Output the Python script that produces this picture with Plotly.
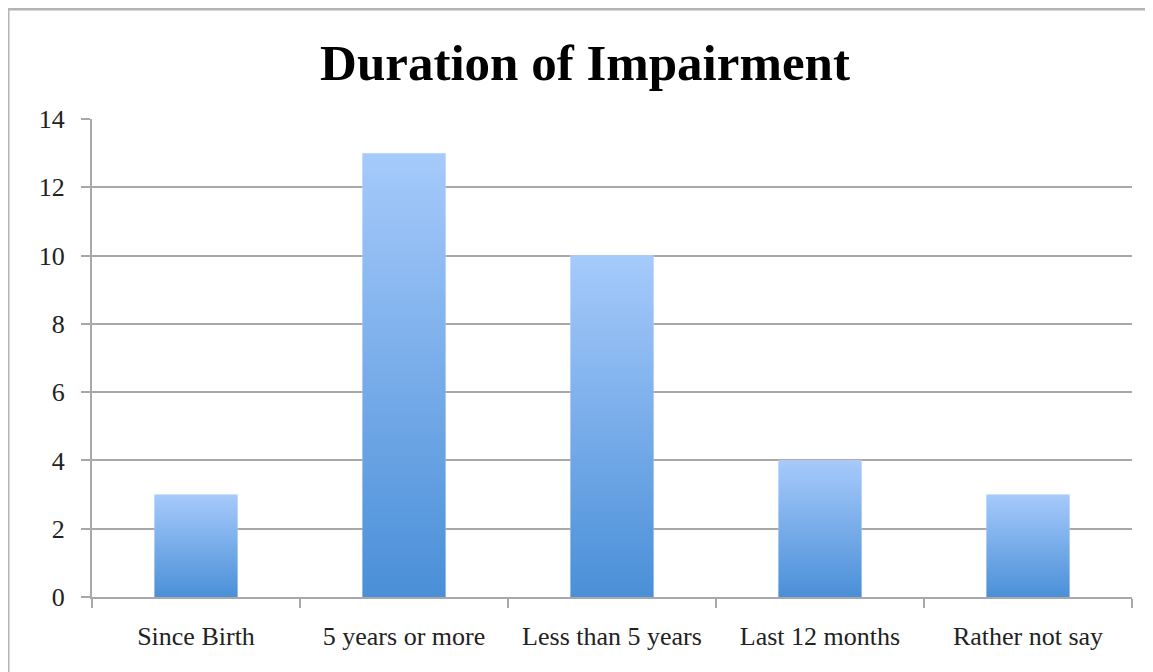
import plotly.graph_objects as go

categories = ["Since Birth", "5 years or more", "Less than 5 years", "Last 12 months", "Rather not say"]
counts = [3, 13, 10, 4, 3]
y_ticks = [0, 2, 4, 6, 8, 10, 12, 14]
title_text = "Duration of Impairment"

BAR_W = 0.4
TOP_COLOR = "#a6cafb"
BOTTOM_COLOR = "#4a8fd8"
GRAY = "#a8a8a8"
FONT = "Liberation Serif"

# page body has an 8px default margin
OFF = 8
W, H = 1153 - OFF, 672 - OFF
ML, MR, MT, MB = 92 - OFF, 21, 119 - OFF, 75
PW, PH = W - ML - MR, H - MT - MB

fig = go.Figure()
# invisible bars establish the category axis
fig.add_trace(go.Bar(x=categories, y=counts, width=BAR_W,
                     marker=dict(color="rgba(0,0,0,0)"), showlegend=False,
                     hoverinfo="x+y"))
# gradient-filled bars drawn on an overlaid linear axis
for i, v in enumerate(counts):
    fig.add_trace(go.Scatter(
        x=[i - BAR_W / 2, i + BAR_W / 2, i + BAR_W / 2, i - BAR_W / 2, i - BAR_W / 2],
        y=[0, 0, v, v, 0],
        mode="lines", line=dict(width=0), fill="toself",
        fillgradient=dict(type="vertical",
                          colorscale=[[0, BOTTOM_COLOR], [1, TOP_COLOR]]),
        xaxis="x2", showlegend=False, hoverinfo="skip"))

fig.update_layout(
    width=W, height=H,
    margin=dict(l=ML, r=MR, t=MT, b=MB),
    paper_bgcolor="white", plot_bgcolor="white",
    title=dict(text="<b>" + title_text + "</b>", xref="container", yref="container",
               x=(585 - OFF) / W, xanchor="center", y=1 - (62 - OFF) / H, yanchor="middle",
               font=dict(family=FONT, size=51, color="black")),
    xaxis=dict(type="category", range=[-0.5, len(categories) - 0.5],
               tickson="boundaries", ticks="outside", ticklen=9, tickwidth=2,
               tickcolor=GRAY, showline=True, linecolor=GRAY, linewidth=2,
               showgrid=False, ticklabelstandoff=15,
               tickfont=dict(family=FONT, size=26, color="#222")),
    xaxis2=dict(overlaying="x", range=[-0.5, len(categories) - 0.5],
                visible=False, anchor="y"),
    yaxis=dict(range=[0, 14], tickvals=y_ticks, ticks="outside", ticklen=9,
               tickwidth=2, tickcolor=GRAY, showline=True, linecolor=GRAY,
               linewidth=2, showgrid=True, gridcolor=GRAY, gridwidth=2,
               zeroline=False, ticklabelstandoff=11,
               tickfont=dict(family=FONT, size=26, color="#222")),
    shapes=[dict(type="rect", xref="paper", yref="paper",
                 x0=(8 - OFF - ML) / PW, x1=(W + 20 - ML) / PW,
                 y0=-(H + 20 - MT - PH) / PH, y1=1 + (MT - (8 - OFF) - 1) / PH,
                 line=dict(color="#b4b4b4", width=3), layer="below")],
)

fig.write_html("out.html")
